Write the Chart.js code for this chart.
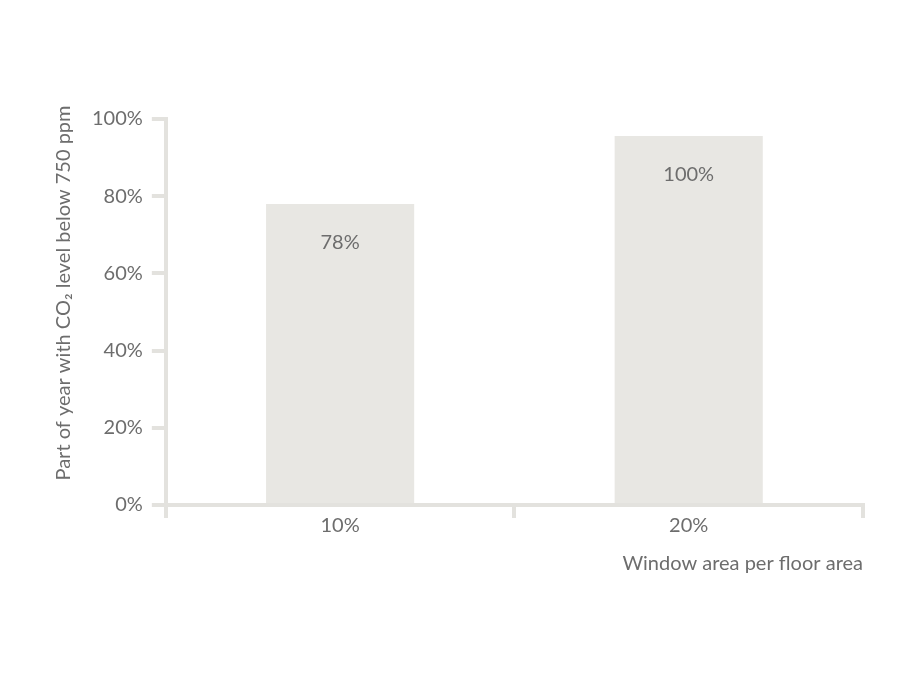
<!DOCTYPE html>
<html>
<head>
<meta charset="utf-8">
<script src="https://cdn.jsdelivr.net/npm/chart.js@4.4.1/dist/chart.umd.min.js"></script>
<style>
html,body{margin:0;padding:0;background:#fff;}
#wrap{width:912px;height:684px;position:relative;}
</style>
</head>
<body>
<div id="wrap"><canvas id="c"></canvas></div>
<script>
const categories = ["10%", "20%"];
const barValues = [78, 95.6];
const barLabels = ["78%", "100%"];
const yTicks = [0, 20, 40, 60, 80, 100];
const yTitle = "Part of year with CO\u2082 level below 750 ppm";
const xTitle = "Window area per floor area";

const textColor = "#6d6d6d";
const lineColor = "#e3e2de";
const barColor = "#e8e7e3";
const fontFamily = "Lato, 'Open Sans', sans-serif";

const labelPlugin = {
  id: "barLabels",
  afterDatasetsDraw(chart) {
    const ctx = chart.ctx;
    const meta = chart.getDatasetMeta(0);
    ctx.save();
    ctx.fillStyle = textColor;
    ctx.font = "20px " + fontFamily;
    ctx.textAlign = "center";
    ctx.textBaseline = "middle";
    meta.data.forEach((bar, i) => {
      ctx.fillText(barLabels[i], bar.x, bar.y + 39);
    });
    ctx.restore();
  }
};

// y-axis title drawn slightly above the plot-area centre, as in the reference
const yTitlePlugin = {
  id: "yTitle",
  afterDraw(chart) {
    const ctx = chart.ctx;
    const ys = chart.scales.y;
    const ca = chart.chartArea;
    ctx.save();
    ctx.fillStyle = textColor;
    ctx.font = "20px " + fontFamily;
    ctx.textAlign = "center";
    ctx.textBaseline = "middle";
    ctx.translate(ys.left + 12, (ca.top + ca.bottom) / 2 - 19);
    ctx.rotate(-Math.PI / 2);
    ctx.fillText(yTitle, 0, 0);
    ctx.restore();
  }
};

new Chart(document.getElementById("c"), {
  type: "bar",
  data: {
    labels: categories,
    datasets: [{
      data: barValues,
      backgroundColor: barColor,
      borderWidth: 0,
      categoryPercentage: 0.85,
      barPercentage: 0.5
    }]
  },
  options: {
    responsive: true,
    maintainAspectRatio: false,
    animation: false,
    layout: { padding: { left: 52, top: 119, right: 49, bottom: 108 } },
    plugins: { legend: { display: false }, tooltip: { enabled: false } },
    scales: {
      x: {
        grid: {
          offset: true,
          drawOnChartArea: false,
          drawTicks: true,
          tickLength: 13,
          color: lineColor,
          lineWidth: 4
        },
        border: { display: true, color: lineColor, width: 4 },
        ticks: { color: textColor, font: { family: fontFamily, size: 20 }, padding: -4 },
        title: {
          display: true,
          text: xTitle,
          align: "end",
          color: textColor,
          font: { family: fontFamily, size: 20 },
          padding: { top: 18, bottom: 0 }
        }
      },
      y: {
        min: 0,
        max: 100,
        afterBuildTicks(axis) { axis.ticks = yTicks.map(v => ({ value: v })); },
        grid: {
          drawOnChartArea: false,
          drawTicks: true,
          tickLength: 14,
          color: lineColor,
          lineWidth: 4
        },
        border: { display: true, color: lineColor, width: 4 },
        ticks: {
          color: textColor,
          font: { family: fontFamily, size: 20 },
          padding: 9,
          callback: v => v + "%"
        },
        title: {
          display: true,
          text: yTitle,
          color: "rgba(0,0,0,0)",
          font: { family: fontFamily, size: 20 },
          padding: { top: 0, bottom: 7 }
        }
      }
    }
  },
  plugins: [labelPlugin, yTitlePlugin]
});
</script>
</body>
</html>
